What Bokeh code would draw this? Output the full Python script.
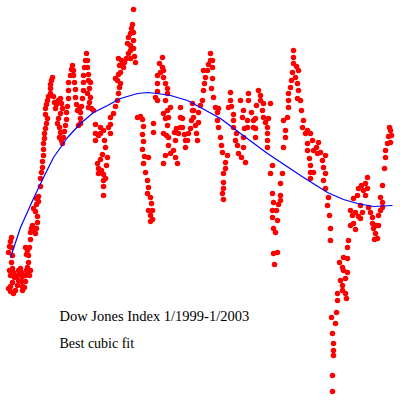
from bokeh.plotting import figure
from bokeh.models import Range1d, Label, ColumnDataSource
from bokeh.embed import file_html
from bokeh.resources import INLINE

# trading-day index and closing value (1999)
days_1999 = [0, 2.5, 5, 7.5, 7.5, 10, 7.5, 2.5, 5, 10,
             12.5, 15, 10, 5, 0, 5, 12.5, 17.5, 22.5, 25,
             22.5, 25, 30, 32.5, 35, 32.5, 35, 35, 40, 42.5,
             42.5, 45, 47.5, 50, 52.5, 55, 50, 45, 42.5, 47.5,
             50, 52.5, 55, 55, 57.5, 60, 65, 67.5, 70, 72.5,
             72.5, 67.5, 62.5, 70, 75, 70, 75,
             80, 80, 82.5, 85, 85, 87.5, 87.5, 87.5, 90, 90, 92.5, 95, 97.5, 92.5, 92.5, 95, 97.5, 100, 105, 105, 105, 107.5, 110,
             112.5, 115, 117.5, 120, 125, 130, 132.5, 135, 130, 125, 122.5, 127.5, 130, 127.5, 132.5, 135, 137.5, 140, 142.5, 145, 145, 147.5, 150, 150, 150,
             155, 157.5, 160, 162.5, 162.5, 165, 167.5, 167.5, 170, 172.5, 177.5, 180, 180, 180, 175, 182.5, 185, 187.5, 187.5, 187.5,
             190, 192.5, 195, 197.5, 197.5, 200, 200, 205, 202.5, 197.5, 205, 202.5, 200, 207.5, 212.5,
             217.5, 217.5, 217.5, 225, 230, 230, 237.5, 240, 242.5, 235, 230, 222.5, 225, 225, 232.5, 237.5, 237.5, 237.5, 237.5, 242.5, 245, 247.5,
             250, 255, 255, 255, 262.5, 267.5, 272.5, 275, 277.5, 280, 272.5, 267.5, 275, 280, 277.5, 275, 282.5, 285, 287.5, 290,
             295, 300, 305, 305, 305, 297.5, 300, 305, 307.5, 310, 312.5, 312.5, 312.5, 312.5, 315, 317.5]
close_1999 = [8776, 8848, 8908, 8956, 8836, 8740, 8656, 8560, 8500, 8584,
              8536, 8476, 8416, 8368, 8344, 8308, 8284, 8320, 8380, 8440,
              8500, 8560, 8584, 8536, 8488, 8428, 8368, 8320, 8356, 8428,
              8500, 8560, 8596, 8548, 8500, 8560, 8656, 8752, 8836, 8800,
              8740, 8836, 8932, 9016, 9064, 9100, 9052, 9004, 9064, 9136,
              9208, 9268, 9304, 9352, 9388, 9424, 9448,
              9568, 9664, 9736, 9796, 9868, 9940, 10012, 10084, 10144, 10204, 10264, 10324, 10384, 10432, 10504, 10552, 10600, 10648, 10684, 10744, 10792, 10840, 10876,
              10648, 10576, 10504, 10552, 10600, 10624, 10564, 10504, 10444, 10384, 10324, 10276, 10216, 10156, 10120, 10084, 10156, 10228, 10300, 10372, 10456, 10528, 10624, 10720, 10816,
              10900, 10972, 11020, 10960, 10900, 10816, 10732, 10636, 10552, 10480, 10504, 10456, 10384, 10324, 10300, 10528, 10624, 10720, 10816, 10900,
              10996, 11080, 11164, 11080, 10996, 10912, 10840, 10816, 10744, 10684, 10636, 10576, 10516, 10504, 10480,
              10312, 10204, 10120, 10180, 10276, 10204, 10240, 10120, 10036, 9952, 9892, 9844, 9784, 9724, 9760, 9712, 9640, 9568, 9460, 9664, 9820, 9916,
              10276, 10204, 10312, 10396, 10444, 10528, 10600, 10684, 10756, 10804, 10840, 10864, 10912, 10936, 11020, 11104, 11080, 11032, 10996, 11056,
              11104, 11164, 11104, 11200, 11260, 11284, 11356, 11404, 11464, 11512, 11692, 11416, 11320, 11224, 11128, 11056]

# 2000 - 2001
days_2000 = [322.5, 330, 335, 337.5, 335, 337.5, 335, 340, 337.5, 342.5, 347.5, 350, 347.5, 355, 357.5, 350, 355, 360, 355, 360, 350,
             362.5, 362.5, 367.5, 372.5, 372.5, 372.5, 372.5, 380, 385, 377.5, 385, 387.5, 387.5, 392.5, 397.5, 397.5, 392.5, 397.5, 387.5, 392.5,
             400, 405, 397.5, 387.5, 395, 400, 400, 392.5, 387.5, 405, 412.5, 417.5, 422.5,
             417.5, 415, 420, 425, 430, 430, 430, 435, 435, 440, 442.5, 442.5, 447.5, 450, 455, 457.5, 460, 460, 462.5, 462.5, 467.5, 470, 472.5, 475, 475,
             480, 485, 487.5, 490, 492.5, 487.5, 497.5, 500, 505, 505, 510, 510, 510, 507.5, 512.5, 517.5, 522.5, 525, 522.5, 525,
             530, 532.5, 535, 542.5, 537.5, 537.5, 537.5, 535, 537.5, 542.5, 547.5, 550, 555, 555,
             557.5, 562.5, 562.5, 562.5, 570, 567.5, 572.5, 575, 582.5, 592.5, 587.5, 587.5, 590, 585, 587.5, 580, 597.5, 597.5, 600, 600,
             607.5, 612.5, 612.5, 617.5, 617.5, 617.5, 620, 625, 630, 630, 637.5, 635, 637.5, 642.5, 647.5, 647.5, 647.5, 647.5, 650, 655]
close_2000 = [10396, 10408, 10372, 10288, 10192, 10108, 10012, 9928, 9844, 9736, 9640, 9556, 9484, 9436, 9364, 9280, 9220, 9172, 9148, 9280, 9916,
              10216, 10324, 10636, 10600, 10708, 10804, 10900, 10936, 10996, 11044, 11116, 10960, 10876, 10804, 10744, 10684, 10600, 10480, 10444, 10384,
              10396, 10516, 10300, 10204, 10180, 10156, 10060, 9940, 9844, 9964, 10000, 9916, 9844,
              10120, 10216, 10264, 10204, 10276, 10396, 10516, 10384, 10276, 10192, 10120, 10036, 10120, 10204, 10264, 10360, 10480, 10564, 10480, 10396, 10300, 10204, 10120, 10336, 10456,
              10540, 10600, 10720, 10804, 10876, 10960, 10960, 11032, 11080, 11164, 11080, 10996, 10864, 10744, 10636, 10516, 10456, 10504, 10360, 10276,
              10156, 10060, 9976, 9856, 9724, 9616, 9544, 9484, 9412, 9784, 9940, 10516, 10600, 10696,
              10528, 10432, 10360, 10276, 10204, 10120, 10060, 9964, 9916, 9856, 10036, 10156, 10264, 10396, 10480, 10600, 10360, 10276, 10600, 10684,
              10456, 10360, 10276, 10156, 10264, 10384, 10540, 10720, 10660, 10600, 10564, 10480, 10396, 10336, 10276, 10204, 10120, 10036, 10384, 10564]

# late 2001 - 2002
days_2002 = [660, 655, 660, 662.5, 660, 660, 662.5, 667.5, 672.5, 662.5, 665, 672.5, 670, 675, 680, 680, 680, 685,
             687.5, 692.5, 692.5, 687.5, 697.5, 700, 700, 700, 705, 707.5, 710, 712.5, 712.5, 712.5, 720, 725, 717.5, 722.5, 725, 722.5,
             730, 732.5, 737.5, 735, 742.5, 747.5, 755, 760, 747.5, 747.5, 752.5, 755, 755, 755, 762.5, 762.5, 770, 775, 772.5, 780,
             792.5, 785, 787.5, 792.5, 787.5, 792.5, 800, 797.5, 802.5, 805, 805,
             807.5, 817.5, 810, 812.5, 812.5, 812.5, 810, 810, 820, 822.5, 822.5, 835, 835, 830, 842.5, 845, 842.5, 847.5, 837.5, 835,
             827.5, 837.5, 847.5, 847.5, 850,
             855, 862.5, 867.5, 860, 855, 867.5, 875, 880, 885, 880, 872.5, 862.5, 875, 882.5, 887.5, 892.5, 897.5, 897.5, 892.5, 900,
             905, 910, 910, 912.5, 917.5, 922.5, 915, 920, 925, 925, 930, 935, 935, 930, 935, 940, 942.5, 942.5, 947.5, 950,
             955, 952.5, 957.5, 955]
close_2002 = [9820, 9724, 9484, 9376, 9280, 9196, 9064, 9016, 8776, 8764, 8632, 9160, 9280, 9352, 9400, 9460, 9604, 9724,
              10036, 10156, 10240, 10360, 10396, 10516, 10600, 10684, 10756, 10840, 10936, 11044, 11116, 11200, 11008, 10960, 10876, 10804, 10720, 10624,
              10600, 10480, 10360, 10276, 10204, 10240, 10204, 10120, 10084, 10000, 9904, 9820, 9736, 9664, 9736, 10000, 10036, 10096, 9964, 9976,
              9940, 9880, 9796, 9724, 9640, 9544, 9436, 9340, 9220, 9064, 8920,
              7996, 7924, 7804, 7684, 7600, 7540, 7300, 7108, 8056, 8200, 8284, 8320, 8380, 8440, 8464, 8224, 8284, 8536, 8560, 8596,
              8656, 8716, 8704, 8836, 8920,
              9100, 9124, 9052, 9220, 9280, 9256, 9208, 9184, 9256, 9340, 9460, 9424, 9544, 9580, 9520, 9460, 9544, 9676, 9604, 9316,
              9256, 9196, 9124, 9064, 9004, 8944, 8932, 9100, 9100, 9220, 9280, 9316, 9376, 9436, 9580, 9784, 9916, 10000, 10084, 10168,
              10240, 10276, 10180, 10096]

# best cubic fit curve
fit_days = [5, 30, 62.5, 87.5, 112.5, 147.5, 180, 212.5, 247.5, 280, 322.5, 347.5, 372.5,
            405, 447.5, 480, 530, 580, 647.5, 730, 797.5, 837.5, 872.5, 912.5, 960]
fit_close = [8716, 9076, 9424, 9676, 9916, 10156, 10324, 10456, 10540, 10624, 10684, 10696, 10684,
             10660, 10600, 10516, 10384, 10204, 9964, 9700, 9496, 9412, 9364, 9328, 9340]

title_text = "Dow Jones Index 1/1999-1/2003"
subtitle_text = "Best cubic fit"

assert len(days_1999) == len(close_1999)
assert len(days_2000) == len(close_2000)
assert len(days_2002) == len(close_2002)
assert len(fit_days) == len(fit_close)

days = days_1999 + days_2000 + days_2002
close = close_1999 + close_2000 + close_2002

p = figure(width=400, height=400, output_backend="svg", toolbar_location=None,
           x_range=Range1d(-20, 980), y_range=Range1d(7000, 11800),
           x_axis_location=None, y_axis_location=None, min_border=0)
p.xgrid.visible = False
p.ygrid.visible = False
p.outline_line_color = None
p.background_fill_color = "white"
p.border_fill_color = "white"

src = ColumnDataSource(dict(d=days, c=close))
p.scatter("d", "c", source=src, marker="circle", size=5.5, fill_color="#ff0000", line_color=None)
p.line(fit_days, fit_close, line_color="#0000ff", line_width=1.2)

p.add_layout(Label(x=59, y=84.5, x_units="screen", y_units="screen", text=title_text,
                   text_font="Liberation Serif", text_font_size="14.5px", text_color="black",
                   text_baseline="alphabetic"))
p.add_layout(Label(x=59, y=56.7, x_units="screen", y_units="screen", text=subtitle_text,
                   text_font="Liberation Serif", text_font_size="14px", text_color="black",
                   text_baseline="alphabetic"))

open("out.html", "w").write(file_html(p, INLINE))
